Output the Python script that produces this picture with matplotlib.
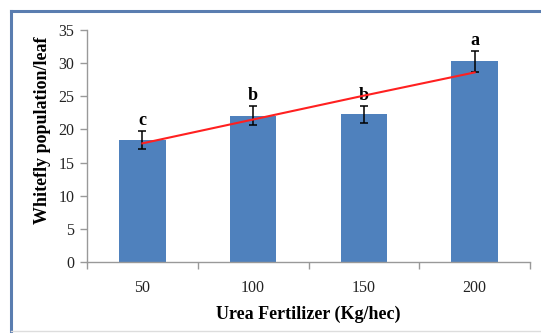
import matplotlib

matplotlib.use("Agg")
import matplotlib.pyplot as plt
from matplotlib.lines import Line2D
import numpy as np

plt.rcParams["font.family"] = ["Liberation Serif", "DejaVu Serif"]

# data
doses = ["50", "100", "150", "200"]
population = [18.4, 22.1, 22.3, 30.3]
errors = [1.3, 1.5, 1.3, 1.6]
letters = ["c", "b", "b", "a"]
trend = [17.9, 21.5, 25.1, 28.6]

BAR = "#4F81BD"
FRAME = "#5A7DB0"

fig = plt.figure(figsize=(5.41, 3.33), dpi=100)
ax = fig.add_axes([0.1608, 0.2132, 0.8189, 0.6967])

x = np.arange(len(doses))
ax.bar(x, population, width=0.42, color=BAR, zorder=2)
ax.errorbar(x, population, yerr=errors, fmt="none", ecolor="black",
            elinewidth=1.1, capsize=2.6, capthick=1.1, zorder=3)
ax.plot(x, trend, color="#FF2020", lw=1.5, zorder=4)

for xi, v, e, lab in zip(x, population, errors, letters):
    ax.text(xi, v + e + 0.3, lab, ha="center", va="bottom", fontsize=13,
            fontweight="bold", color="black")

ax.set_xlim(-0.5, len(doses) - 0.5)
ax.set_ylim(0, 35)
ax.set_yticks(np.arange(0, 36, 5))
ax.set_xticks(x)
ax.set_xticklabels(doses)
ax.set_xticks(np.arange(-0.5, len(doses), 1.0), minor=True)
ax.tick_params(axis="x", which="major", length=0, pad=13, labelsize=11.5, labelcolor="#222222")
ax.tick_params(axis="x", which="minor", length=5, color="#999999", width=1)
ax.tick_params(axis="y", length=5, color="#999999", width=1, labelsize=11.5,
               labelcolor="#222222", pad=4)

for side in ("top", "right"):
    ax.spines[side].set_visible(False)
for side in ("left", "bottom"):
    ax.spines[side].set_color("#999999")
    ax.spines[side].set_linewidth(1.0)

ax.set_ylabel("Whitefly population/leaf", fontsize=13, fontweight="bold")
ax.yaxis.set_label_coords(-0.082, 0.57)
ax.set_xlabel("Urea Fertilizer (Kg/hec)", fontsize=13, fontweight="bold", labelpad=7)

# outer frame (left/top blue, bottom faint)
W, H = 541, 333
fig.add_artist(Line2D([11 / W, 11 / W], [1 - 11 / H, 1 - 331 / H], color=FRAME, lw=2.2,
                      transform=fig.transFigure))
fig.add_artist(Line2D([11 / W, 1.0], [1 - 11 / H, 1 - 11 / H], color=FRAME, lw=2.2,
                      transform=fig.transFigure))
fig.add_artist(Line2D([11 / W, 1.0], [1 - 331 / H, 1 - 331 / H], color="#DDDDDD", lw=1,
                      transform=fig.transFigure))

fig.savefig("out.png", dpi=100)
